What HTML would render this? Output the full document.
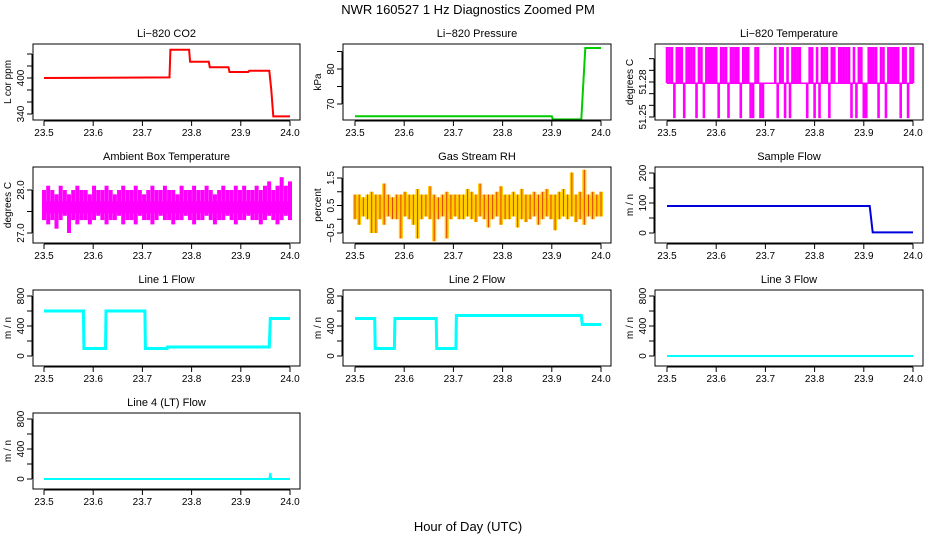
<!DOCTYPE html>
<html><head><meta charset="utf-8"><style>
body{margin:0;background:#fff;}
svg{display:block;font-family:"Liberation Sans",sans-serif;}
</style></head><body>
<svg id="c" width="936" height="540">
<text x="468" y="14" font-size="13" text-anchor="middle">NWR  160527  1 Hz Diagnostics Zoomed PM</text>
<text x="468" y="531" font-size="13" text-anchor="middle">Hour of Day (UTC)</text>
</svg>
<script>
// ---- data ----
const xTicks=[23.5,23.6,23.7,23.8,23.9,24.0];
const co2X=[23.5,23.755,23.757,23.795,23.797,23.835,23.837,23.875,23.877,23.915,23.917,23.958,23.962,23.966,24.0];
const co2Y=[400,401,447,447,427,427,418,418,410,410,412,412,380,336,336];
const presX=[23.5,23.9,23.902,23.96,23.968,24.0];
const presY=[66.5,66.5,65.6,65.6,86,86];
const sflowX=[23.5,23.912,23.918,24.0];
const sflowY=[90,90,2,2];
const l1X=[23.5,23.58,23.581,23.625,23.626,23.705,23.706,23.75,23.751,23.958,23.96,24.0];
const l1Y=[600,600,100,100,600,600,100,100,120,120,500,500];
const l2X=[23.5,23.54,23.541,23.58,23.581,23.665,23.666,23.705,23.706,23.96,23.962,24.0];
const l2Y=[500,500,100,100,500,500,100,100,540,540,420,420];
const l3X=[23.5,24.0];
const l3Y=[0,0];
const l4X=[23.5,23.958,23.96,23.962,24.0];
const l4Y=[0,0,80,0,0];
const ambHi=[28.0,28.1,28.0,27.9,28.1,28.0,27.9,28.0,28.1,28.0,28.0,27.9,28.1,28.0,28.0,28.1,28.0,27.9,28.0,28.1,28.0,28.0,28.1,28.0,27.9,28.0,28.1,28.0,28.0,28.1,28.0,28.0,27.9,28.1,28.0,28.0,28.1,28.0,28.0,28.1,28.0,27.9,28.0,28.1,28.0,28.0,28.1,28.0,28.1,28.0,28.0,28.1,28.0,28.1,28.2,28.0,28.1,28.3,28.1,28.2];
const ambLo=[27.3,27.2,27.3,27.1,27.3,27.4,27.0,27.3,27.2,27.3,27.3,27.2,27.3,27.4,27.3,27.2,27.3,27.3,27.4,27.2,27.3,27.3,27.2,27.4,27.3,27.3,27.2,27.3,27.4,27.3,27.3,27.2,27.3,27.3,27.4,27.3,27.2,27.3,27.3,27.4,27.3,27.2,27.3,27.3,27.4,27.3,27.2,27.3,27.3,27.4,27.3,27.3,27.2,27.3,27.4,27.3,27.2,27.3,27.4,27.3];
const rhHi=[0.9,0.9,0.8,0.9,1.0,0.9,0.9,1.3,0.9,0.8,0.9,0.9,1.0,0.9,0.9,1.1,0.9,0.9,1.2,0.9,0.8,0.9,1.0,0.9,0.9,0.9,0.9,1.1,1.0,0.9,1.3,0.9,0.9,0.9,1.0,1.2,0.9,0.9,1.0,0.9,1.1,0.9,0.9,1.0,0.9,1.0,1.1,0.9,0.9,1.0,1.1,0.9,1.7,0.9,1.0,1.8,0.9,1.0,0.9,1.0];
const rhLo=[0.0,-0.2,0.1,0.0,-0.5,-0.5,0.0,-0.2,0.1,0.0,0.0,-0.7,0.1,0.0,-0.2,-0.7,0.0,0.1,0.0,-0.8,0.0,0.1,-0.7,0.0,0.1,0.0,0.0,0.1,0.0,-0.1,0.1,0.0,-0.3,0.0,0.1,-0.2,0.0,0.0,0.1,-0.3,0.0,-0.1,0.0,0.1,-0.2,0.0,0.1,0.0,-0.4,0.0,0.1,0.0,0.1,-0.1,0.0,-0.2,0.1,0.0,0.1,0.1];
const tempSeq="hhhlhhhlhhhhlhhlhhhhhlhhhlhhhhlhhhllhhllmmmmhlhhlhlhhhhmmlhhlhlhhhlhhmhhhhhlhlhhllhhhhlhhlhhhhhlhhlhh";
const tempLevels={h:51.31,m:51.279,l:51.249};
// ---- layout ----
const NS="http://www.w3.org/2000/svg";
const svg=document.getElementById('c');
function mk(tag,at,parent){const e=document.createElementNS(NS,tag);for(const k in at)e.setAttribute(k,at[k]);(parent||svg).appendChild(e);return e;}
const cols=[{x0:33,x1:300,a:44,b:290},{x0:343,x1:611,a:355,b:601},{x0:655,x1:923,a:667,b:913}];
const rows=[44,167,290,413];
function panel(r,c,title,ylab,yA,yAp,yB,yBp,refRow,yticks,ylabels,name){
  const col=cols[c],top=rows[r],bot=top+76;
  const off=rows[r]-rows[refRow];
  const g=mk('g',{});
  
  
  const sx=v=>col.a+(v-23.5)/(0.5)*(col.b-col.a);
  const yAbs=yAp+off,yBbs=yBp+off;
  const sy=v=>yAbs+(v-yA)/(yB-yA)*(yBbs-yAbs);
  const t=mk('text',{x:(col.x0+col.x1)/2,y:top-7,'font-size':11,'text-anchor':'middle'},g);t.textContent=title;
  
  const ax=mk('g',{stroke:'#000','stroke-width':1,fill:'none'},g);
  xTicks.forEach(v=>{const x=sx(v);mk('line',{x1:x,x2:x,y1:bot+1,y2:bot+6},ax);
    const l=mk('text',{x:x,y:bot+16,'font-size':10,'text-anchor':'middle',fill:'#000',stroke:'none'},g);l.textContent=v.toFixed(1);
    });
  mk('line',{x1:sx(23.5),x2:sx(24),y1:bot+1,y2:bot+1},ax);
  mk('line',{x1:col.x0-1,x2:col.x0-1,y1:sy(yticks[0]),y2:sy(yticks[yticks.length-1])},ax);
  yticks.forEach(v=>{const y=sy(v);mk('line',{x1:col.x0-1,x2:col.x0-6,y1:y,y2:y},ax);});
  ylabels.forEach(s=>{const v=parseFloat(s.replace('\u2212','-'));const y=sy(v);const l=mk('text',{x:col.x0-9,y:y,'font-size':10,'text-anchor':'middle',transform:`rotate(-90 ${col.x0-9} ${y})`},g);l.textContent=s;
    });
  const yl=mk('text',{x:col.x0-22,y:(top+bot)/2,'font-size':10,'text-anchor':'middle',transform:`rotate(-90 ${col.x0-22} ${(top+bot)/2})`},g);yl.textContent=ylab;
  
  const clip=mk('g',{},g);
  const frame=mk('rect',{x:col.x0,y:top,width:col.x1-col.x0,height:76,fill:'none',stroke:'#000'},g);
  
  return {sx,sy,g:clip};
}
function line(p,xs,ys,color,w,name){
  const pts=xs.map((x,i)=>p.sx(x).toFixed(1)+','+p.sy(ys[i]).toFixed(1)).join(' ');
  const e=mk('polyline',{points:pts,fill:'none',stroke:color,'stroke-width':w},p.g);
  
}
function bars(p,lo,hi,color,w,name){
  const n=lo.length;
  for(let i=0;i<n;i++){const x=p.sx(23.5+0.5*i/(n-1));
    const e=mk('line',{x1:x,x2:x,y1:p.sy(lo[i]),y2:p.sy(hi[i]),stroke:color,'stroke-width':w},p.g);
    }
}
// CO2
let p=panel(0,0,'Li\u2212820 CO2','L cor ppm',400,78,340,114,0,[340,360,380,400,420,440],['340','400'],'co2-panel');
line(p,co2X,co2Y,'#ff0000',2,'co2-line');
// Pressure
p=panel(0,1,'Li\u2212820 Pressure','kPa',70,104,80,69,0,[70,75,80,85],['70','80'],'pressure-panel');
line(p,presX,presY,'#00cc00',2,'pressure-line');
// Temperature
p=panel(0,2,'Li\u2212820 Temperature','degrees C',51.25,117,51.28,82,0,[51.25,51.26,51.27,51.28,51.29,51.30],['51.25','51.28'],'li820-temp-panel');
bars(p,tempSeq.split('').map(()=>tempLevels.m),tempSeq.split('').map(ch=>tempLevels[ch]),'#ff00ff',2.6,'temp-bar');
line(p,[23.5,24.0],[tempLevels.m,tempLevels.m],'#ff00ff',1.5,'temp-baseline');
// Ambient
p=panel(1,0,'Ambient Box Temperature','degrees C',28,190,27,233,1,[27.0,27.5,28.0],['27.0','28.0'],'ambient-panel');
bars(p,ambLo,ambHi,'#ff00ff',4,'ambient-band');
line(p,[23.5,24.0],[27.6,27.6],'#ff00ff',12,'ambient-core');
// RH
p=panel(1,1,'Gas Stream RH','percent',1.5,178,-0.5,233,1,[-0.5,0,0.5,1.0,1.5],['\u22120.5','0.5','1.5'],'rh-panel');
bars(p,rhLo,rhHi,'#ffcc00',4.1,'rh-band');
line(p,[23.5,24.0],[0.5,0.5],'#ffcc00',14,'rh-core-band');
bars(p,rhLo,rhHi,'#e04000',1,'rh-core');
// Sample flow
p=panel(1,2,'Sample Flow','m / n',200,173,0,233,1,[0,50,100,150,200],['0','100','200'],'sample-flow-panel');
line(p,sflowX,sflowY,'#0000dd',2,'sample-flow-line');
// Line flows
const lt=[0,200,400,600,800],ll=['0','400','800'];
p=panel(2,0,'Line 1 Flow','m / n',0,356,800,296,2,lt,ll,'line1-panel');
line(p,l1X,l1Y,'#00ffff',3,'line1-flow');
p=panel(2,1,'Line 2 Flow','m / n',0,356,800,296,2,lt,ll,'line2-panel');
line(p,l2X,l2Y,'#00ffff',3,'line2-flow');
p=panel(2,2,'Line 3 Flow','m / n',0,356,800,296,2,lt,ll,'line3-panel');
line(p,l3X,l3Y,'#00ffff',2,'line3-flow');
p=panel(3,0,'Line 4 (LT) Flow','m / n',0,356,800,296,2,lt,ll,'line4-panel');
line(p,l4X,l4Y,'#00ffff',2,'line4-flow');
</script>
</body></html>
